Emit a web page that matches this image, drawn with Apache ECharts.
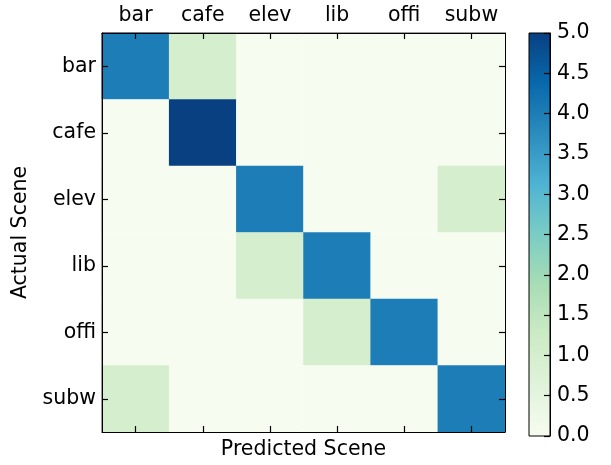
<!DOCTYPE html>
<html><head><meta charset="utf-8">
<script src="https://cdn.jsdelivr.net/npm/echarts@6/dist/echarts.min.js"></script>
<style>html,body{margin:0;padding:0;background:#fff}#c{width:611px;height:465px}</style>
</head><body><div id="c"></div>
<script>
const categories = ['bar', 'cafe', 'elev', 'lib', 'offi', 'subw'];
// rows = actual scene, columns = predicted scene
const rowBar  = [4, 1, 0, 0, 0, 0];
const rowCafe = [0, 5, 0, 0, 0, 0];
const rowElev = [0, 0, 4, 0, 0, 1];
const rowLib  = [0, 0, 1, 4, 0, 0];
const rowOffi = [0, 0, 0, 1, 4, 0];
const rowSubw = [1, 0, 0, 0, 0, 4];
const colorbarTicks = [0, 0.5, 1, 1.5, 2, 2.5, 3, 3.5, 4, 4.5, 5];

const rows = [rowBar, rowCafe, rowElev, rowLib, rowOffi, rowSubw];
const data = [];
rows.forEach((r, yi) => r.forEach((v, xi) => data.push([xi, yi, v])));

const gnbu = ['#f7fcf0','#e0f3db','#ccebc5','#a8ddb5','#7bccc4','#4eb3d3','#2b8cbe','#0868ac','#084081'];
const font = 'DejaVu Sans';
const txt = {color: '#000', fontSize: 20.5, fontFamily: font};
const mkTick = () => ({show: true, inside: true, length: 6, interval: 0, alignWithLabel: true, lineStyle: {color: '#000', width: 1.2}});
const mkLine = () => ({show: true, onZero: false, lineStyle: {color: '#000', width: 1}});

const chart = echarts.init(document.getElementById('c'));
chart.setOption({
  animation: false,
  backgroundColor: '#fff',
  grid: [
    {left: 102, top: 33, width: 403, height: 403, show: true, borderColor: '#000', borderWidth: 1},
    {left: 529, top: 33, width: 21, height: 403, show: true, borderColor: '#000', borderWidth: 1,
     backgroundColor: new echarts.graphic.LinearGradient(0, 1, 0, 0, gnbu.map((c, i) => ({offset: i / (gnbu.length - 1), color: c})))}
  ],
  xAxis: [
    {type: 'category', data: categories, gridIndex: 0, position: 'top', z: 10, axisLine: mkLine(), axisTick: mkTick(),
     axisLabel: Object.assign({margin: 7, interval: 0}, txt), splitLine: {show: false}},
    {type: 'category', data: categories, gridIndex: 0, position: 'bottom', z: 10, axisLine: mkLine(), axisTick: mkTick(),
     axisLabel: {show: false}, splitLine: {show: false},
     name: 'Predicted Scene', nameLocation: 'middle', nameGap: 7, nameTextStyle: txt},
    {type: 'category', data: [''], gridIndex: 1, show: false}
  ],
  yAxis: [
    {type: 'category', data: categories, inverse: true, gridIndex: 0, position: 'left', z: 10, axisLine: mkLine(), axisTick: mkTick(),
     axisLabel: Object.assign({margin: 6, interval: 0}, txt), splitLine: {show: false},
     name: 'Actual Scene', nameLocation: 'middle', nameGap: 63, nameTextStyle: txt},
    {type: 'category', data: categories, inverse: true, gridIndex: 0, position: 'right', z: 10, axisLine: mkLine(), axisTick: mkTick(),
     axisLabel: {show: false}, splitLine: {show: false}},
    {type: 'value', gridIndex: 1, position: 'right', z: 10, min: colorbarTicks[0], max: colorbarTicks[colorbarTicks.length - 1],
     interval: 0.5, axisLine: mkLine(), axisTick: {show: true, inside: true, length: 6, lineStyle: {color: '#000', width: 1.2}},
     axisLabel: Object.assign({margin: 7, formatter: v => v.toFixed(1)}, txt), splitLine: {show: false}}
  ],
  visualMap: {show: false, type: 'continuous', min: 0, max: 5, seriesIndex: 0, inRange: {color: gnbu}},
  series: [{
    type: 'heatmap', xAxisIndex: 0, yAxisIndex: 0, data: data, z: 2,
    itemStyle: {borderWidth: 0}, emphasis: {disabled: true}
  }]
});
</script></body></html>
